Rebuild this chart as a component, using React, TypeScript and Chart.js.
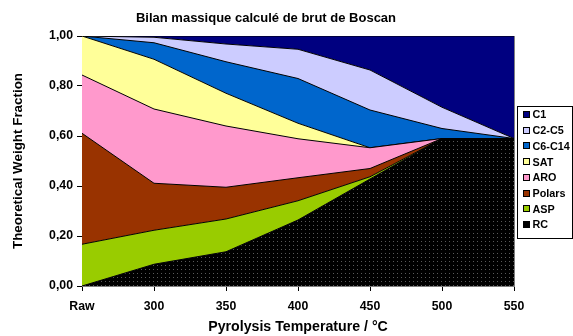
import React, { useEffect, useRef } from "react";
import { Chart, registerables } from "chart.js";

Chart.register(...registerables);

const categories = ["Raw", "300", "350", "400", "450", "500", "550"];
const seriesNames = ["RC", "ASP", "Polars", "ARO", "SAT", "C6-C14", "C2-C5", "C1"];
const RC = [0, 0.087, 0.137, 0.264, 0.428, 0.59, 0.59];
const ASP = [0.167, 0.136, 0.131, 0.077, 0.009, 0, 0];
const Polars = [0.444, 0.188, 0.127, 0.092, 0.033, 0, 0];
const ARO = [0.233, 0.297, 0.245, 0.156, 0.083, 0, 0];
const SAT = [0.156, 0.199, 0.131, 0.062, 0, 0, 0];
const C6C14 = [0, 0.066, 0.126, 0.179, 0.151, 0.04, 0];
const C2C5 = [0, 0.022, 0.071, 0.117, 0.16, 0.085, 0];
const C1 = [0, 0.005, 0.032, 0.053, 0.136, 0.285, 0.41];
const yTicks = [0, 0.2, 0.4, 0.6, 0.8, 1.0];
const titleText = "Bilan massique calculé de brut de Boscan";

const colors = ["#000000", "#99CC00", "#993300", "#FF99CC", "#FFFF99", "#0066CC", "#CCCCFF", "#000080"];
const FONT = "'Liberation Sans', Arial, sans-serif";

function makePattern(): CanvasPattern | string {
  const c = document.createElement("canvas");
  c.width = 4;
  c.height = 4;
  const g = c.getContext("2d");
  if (!g) return "#000";
  g.fillStyle = "#000";
  g.fillRect(0, 0, 4, 4);
  g.fillStyle = "#5a5a5a";
  g.fillRect(1, 1, 1, 1);
  const p = g.createPattern(c, "repeat");
  return p || "#000";
}

export default function App() {
  const ref = useRef<HTMLCanvasElement | null>(null);
  useEffect(() => {
    if (!ref.current) return;
    const values = [RC, ASP, Polars, ARO, SAT, C6C14, C2C5, C1];
    const pattern = makePattern();
    const datasets = seriesNames.map((name, i) => ({
      label: name,
      data: values[i],
      backgroundColor: i === 0 ? pattern : colors[i],
      borderColor: "#000",
      borderWidth: 1,
      pointRadius: 0,
      tension: 0,
      fill: i === 0 ? "origin" : "-1",
    }));

    const borderPlugin = {
      id: "areaBorder",
      beforeDatasetsDraw(chart: any) {
        const { ctx, chartArea: a } = chart;
        ctx.save();
        ctx.strokeStyle = "#808080";
        ctx.lineWidth = 1;
        ctx.strokeRect(a.left + 0.5, a.top + 0.5, a.right - a.left, a.bottom - a.top);
        ctx.restore();
      },
    };

    const titlePlugin = {
      id: "customTitle",
      afterDraw(chart: any) {
        const ctx = chart.ctx;
        ctx.save();
        ctx.fillStyle = "#000";
        ctx.font = `bold 13px ${FONT}`;
        ctx.textAlign = "center";
        ctx.textBaseline = "middle";
        ctx.fillText(titleText, 266, 18.5);
        ctx.restore();
      },
    };

    const legendPlugin = {
      id: "customLegend",
      afterDraw(chart: any) {
        const ctx = chart.ctx;
        const x0 = 517.5, y0 = 106.5, w = 55, h = 132;
        ctx.save();
        ctx.fillStyle = "#fff";
        ctx.fillRect(x0, y0, w, h);
        ctx.strokeStyle = "#000";
        ctx.lineWidth = 1;
        ctx.strokeRect(x0, y0, w, h);
        ctx.font = `bold 10.8px ${FONT}`;
        ctx.textBaseline = "middle";
        const ds = chart.data.datasets.slice().reverse();
        ds.forEach((d: any, i: number) => {
          const cy = 115 + i * 15.7;
          const idx = seriesNames.length - 1 - i;
          ctx.fillStyle = colors[idx];
          ctx.fillRect(523.5, Math.round(cy) - 3.5, 6, 6);
          ctx.strokeStyle = "#000";
          ctx.strokeRect(523.5, Math.round(cy) - 3.5, 6, 6);
          ctx.fillStyle = "#000";
          ctx.fillText(d.label, 532.5, cy + 0.5);
        });
        ctx.restore();
      },
    };

    const chart = new Chart(ref.current, {
      type: "line",
      data: { labels: categories, datasets: datasets as any },
      plugins: [borderPlugin, titlePlugin, legendPlugin],
      options: {
        animation: false,
        responsive: false,
        maintainAspectRatio: false,
        layout: { padding: { left: 0, right: 59, top: 36, bottom: 0 } },
        plugins: {
          legend: { display: false },
          tooltip: { enabled: false },
          title: { display: false },
          filler: { propagate: false },
        } as any,
        scales: {
          x: {
            offset: false,
            grid: { display: true, drawOnChartArea: false, color: "#000", tickLength: 5 },
            border: { color: "#000" },
            ticks: {
              color: "#000",
              padding: 8,
              maxRotation: 0,
              font: { family: FONT, size: 12.3, weight: "bold" },
            },
            title: {
              display: true,
              text: "Pyrolysis Temperature / °C",
              color: "#000",
              font: { family: FONT, size: 14.2, weight: "bold" },
              padding: { top: 0, bottom: 0 },
            },
            afterFit(scale: any) {
              scale.height = 50;
            },
          },
          y: {
            stacked: true,
            min: 0,
            max: 1,
            afterBuildTicks(scale: any) {
              scale.ticks = yTicks.map((v) => ({ value: v }));
            },
            grid: { display: true, drawOnChartArea: false, color: "#000", tickLength: 5 },
            border: { color: "#000" },
            ticks: {
              color: "#000",
              padding: 4,
              font: { family: FONT, size: 12.3, weight: "bold" },
              callback: (v: any) => Number(v).toFixed(2).replace(".", ","),
            },
            title: {
              display: true,
              text: "Theoretical Weight Fraction",
              color: "#000",
              font: { family: FONT, size: 13.4, weight: "bold" },
              padding: { top: 10, bottom: 0 },
            },
            afterFit(scale: any) {
              scale.width = 82;
            },
          },
        },
      },
    });
    return () => chart.destroy();
  }, []);
  return (
    <div style={{ position: "fixed", left: 0, top: 0, width: 573, height: 336, background: "#fff" }}>
      <canvas ref={ref} width={573} height={336} style={{ width: 573, height: 336 }} />
    </div>
  );
}
